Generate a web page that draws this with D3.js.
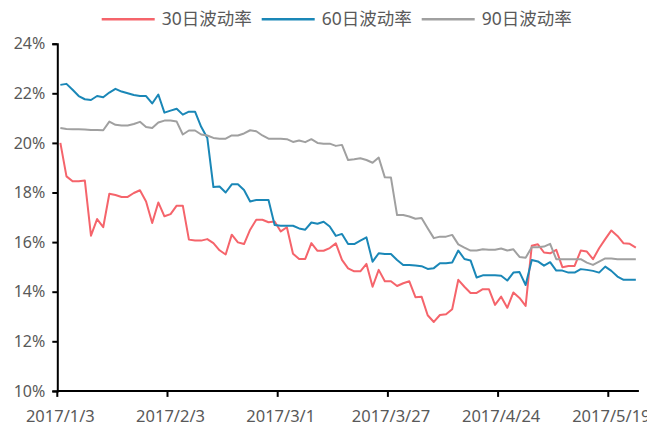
<!DOCTYPE html>
<html>
<head>
<meta charset="utf-8">
<script src="https://cdn.jsdelivr.net/npm/d3@7"></script>
<style>
  html, body { margin: 0; padding: 0; background: #fff; }
  svg { display: block; font-family: "Noto Sans", "Noto Sans CJK SC", sans-serif; }
</style>
</head>
<body>
<svg id="chart" width="660" height="429"></svg>
<script>
// trading days, 2017/1/3 .. 2017/5/25
let dates = [
  '2017/1/3','2017/1/4','2017/1/5','2017/1/6','2017/1/9','2017/1/10','2017/1/11','2017/1/12','2017/1/13',
  '2017/1/16','2017/1/17','2017/1/18','2017/1/19','2017/1/20','2017/1/23','2017/1/24','2017/1/25','2017/1/26',
  '2017/2/3','2017/2/6','2017/2/7','2017/2/8','2017/2/9','2017/2/10','2017/2/13','2017/2/14','2017/2/15',
  '2017/2/16','2017/2/17','2017/2/20','2017/2/21','2017/2/22','2017/2/23','2017/2/24','2017/2/27','2017/2/28',
  '2017/3/1','2017/3/2','2017/3/3','2017/3/6','2017/3/7','2017/3/8','2017/3/9','2017/3/10','2017/3/13',
  '2017/3/14','2017/3/15','2017/3/16','2017/3/17','2017/3/20','2017/3/21','2017/3/22','2017/3/23','2017/3/24',
  '2017/3/27','2017/3/28','2017/3/29','2017/3/30','2017/3/31','2017/4/5','2017/4/6','2017/4/7','2017/4/10',
  '2017/4/11','2017/4/12','2017/4/13','2017/4/14','2017/4/17','2017/4/18','2017/4/19','2017/4/20','2017/4/21',
  '2017/4/24','2017/4/25','2017/4/26','2017/4/27','2017/4/28','2017/5/2','2017/5/3','2017/5/4','2017/5/5',
  '2017/5/8','2017/5/9','2017/5/10','2017/5/11','2017/5/12','2017/5/15','2017/5/16','2017/5/17','2017/5/18',
  '2017/5/19','2017/5/22','2017/5/23','2017/5/24','2017/5/25'
];

let vol30 = [
  20.0, 18.65, 18.45, 18.45, 18.48, 16.26, 16.93, 16.6, 17.95, 17.9,
  17.82, 17.82, 17.98, 18.09, 17.64, 16.77, 17.6, 17.04, 17.13, 17.47,
  17.47, 16.1, 16.06, 16.06, 16.12, 15.96, 15.67, 15.5, 16.3, 15.99,
  15.92, 16.5, 16.9, 16.9, 16.8, 16.83, 16.43, 16.6, 15.53, 15.32,
  15.32, 15.96, 15.65, 15.65, 15.76, 15.95, 15.28, 14.94, 14.82, 14.82,
  15.12, 14.2, 14.88, 14.42, 14.42, 14.23, 14.34, 14.42, 13.78, 13.8,
  13.05, 12.78, 13.06, 13.09, 13.29, 14.48, 14.2, 13.95, 13.95, 14.1,
  14.1, 13.47, 13.8, 13.35, 13.97, 13.75, 13.43, 15.85, 15.91, 15.58,
  15.55, 15.69, 14.99, 15.04, 15.04, 15.66, 15.62, 15.31, 15.75, 16.12,
  16.47, 16.25, 15.95, 15.93, 15.78
];

let vol60 = [
  22.34, 22.38, 22.14, 21.89, 21.76, 21.73, 21.89, 21.84, 22.03, 22.18,
  22.07, 22.0, 21.93, 21.89, 21.89, 21.59, 21.95, 21.22, 21.3, 21.38,
  21.14, 21.26, 21.26, 20.65, 20.2, 18.22, 18.24, 18.0, 18.33, 18.33,
  18.1, 17.64, 17.7, 17.7, 17.7, 16.69, 16.66, 16.66, 16.66, 16.55,
  16.5, 16.79, 16.74, 16.82, 16.63, 16.25, 16.33, 15.92, 15.92, 16.06,
  16.19, 15.21, 15.55, 15.52, 15.52, 15.28, 15.08, 15.08, 15.06, 15.03,
  14.92, 14.95, 15.15, 15.15, 15.18, 15.66, 15.32, 15.26, 14.57, 14.66,
  14.66, 14.66, 14.64, 14.45, 14.77, 14.79, 14.27, 15.28, 15.22, 15.05,
  15.19, 14.85, 14.85, 14.77, 14.77, 14.91, 14.88, 14.84, 14.77, 15.01,
  14.84, 14.61, 14.48, 14.48, 14.48
];

let vol90 = [
  20.6, 20.56, 20.55, 20.55, 20.54, 20.52, 20.52, 20.51, 20.86, 20.73,
  20.7, 20.7, 20.76, 20.85, 20.64, 20.6, 20.82, 20.9, 20.9, 20.86,
  20.34, 20.5, 20.5, 20.34, 20.3, 20.2, 20.17, 20.17, 20.3, 20.3,
  20.38, 20.51, 20.47, 20.3, 20.17, 20.17, 20.17, 20.15, 20.04, 20.1,
  20.03, 20.15, 20.0, 19.97, 19.97, 19.88, 19.92, 19.31, 19.34, 19.38,
  19.31, 19.2, 19.41, 18.61, 18.6, 17.09, 17.09, 17.03, 16.94, 16.97,
  16.56, 16.16, 16.22, 16.22, 16.29, 15.91, 15.78, 15.66, 15.66, 15.71,
  15.69, 15.69, 15.74, 15.66, 15.71, 15.4, 15.37, 15.79, 15.79, 15.82,
  15.93, 15.31, 15.31, 15.31, 15.31, 15.31, 15.17, 15.08, 15.21, 15.34,
  15.34, 15.31, 15.31, 15.31, 15.31
];

let seriesNames = ['30日波动率', '60日波动率', '90日波动率'];
let seriesColors = ['#f5646b', '#1a87b7', '#a0a0a0'];
let yTicks = [10, 12, 14, 16, 18, 20, 22, 24];
let xTickLabels = ['2017/1/3', '2017/2/3', '2017/3/1', '2017/3/27', '2017/4/24', '2017/5/19'];

let series = [vol30, vol60, vol90];

let svg = d3.select('#chart');

// clip everything to the chart area (the last date label is cut off)
svg.append('defs').append('clipPath').attr('id', 'area')
  .append('rect').attr('x', 0).attr('y', 0).attr('width', 647).attr('height', 429);
let g = svg.append('g').attr('clip-path', 'url(#area)');

let x = d3.scaleBand()
  .domain(dates)
  .range([57.3, 638.9])
  .paddingInner(0)
  .paddingOuter(0);

let y = d3.scaleLinear()
  .domain([10, 24])
  .range([390.9, 43.7]);

let line = d3.line()
  .x((d, i) => x(dates[i]) + x.bandwidth() / 2)
  .y(d => y(d));

// lines
series.forEach((s, k) => {
  g.append('path')
    .datum(s)
    .attr('fill', 'none')
    .attr('stroke', seriesColors[k])
    .attr('stroke-width', 2)
    .attr('stroke-linejoin', 'round')
    .attr('d', line);
});

// y axis
let yAxis = g.append('g')
  .attr('transform', 'translate(57.3,0)')
  .call(d3.axisLeft(y).tickValues(yTicks).tickFormat(d => d + '%').tickSize(5).tickPadding(7));
yAxis.select('.domain').attr('stroke', '#000').attr('stroke-width', 2);
yAxis.selectAll('.tick line').attr('stroke', '#000').attr('stroke-width', 2);
yAxis.selectAll('.tick text')
  .attr('fill', '#595959')
  .style('font-size', '16px')
  .style('font-family', '"Noto Sans", sans-serif');

// x axis (ticks at category boundaries, labels centred on the category)
let xAxis = g.append('g');
xAxis.append('line')
  .attr('x1', x.range()[0]).attr('x2', x.range()[1])
  .attr('y1', y(10)).attr('y2', y(10))
  .attr('stroke', '#000').attr('stroke-width', 2);
xAxis.selectAll('line.tick')
  .data(xTickLabels)
  .join('line')
  .attr('class', 'tick')
  .attr('x1', d => x(d)).attr('x2', d => x(d))
  .attr('y1', y(10)).attr('y2', y(10) + 6)
  .attr('stroke', '#000').attr('stroke-width', 2);
xAxis.selectAll('text')
  .data(xTickLabels)
  .join('text')
  .attr('x', d => x(d) + x.bandwidth() / 2)
  .attr('y', 422)
  .attr('text-anchor', 'middle')
  .attr('fill', '#595959')
  .style('font-size', '16.5px')
  .text(d => d);

// legend
let legend = svg.append('g').attr('transform', 'translate(101.7,19.3)');
seriesNames.forEach((name, k) => {
  let item = legend.append('g').attr('transform', `translate(${k * 160},0)`);
  item.append('line')
    .attr('x1', 0).attr('x2', 53)
    .attr('y1', 0).attr('y2', 0)
    .attr('stroke', seriesColors[k])
    .attr('stroke-width', 2.5);
  item.append('text')
    .attr('x', 60)
    .attr('y', 0)
    .attr('dy', '0.35em')
    .attr('fill', '#595959')
    .style('font-size', '17.5px')
    .text(name);
});
</script>
</body>
</html>
